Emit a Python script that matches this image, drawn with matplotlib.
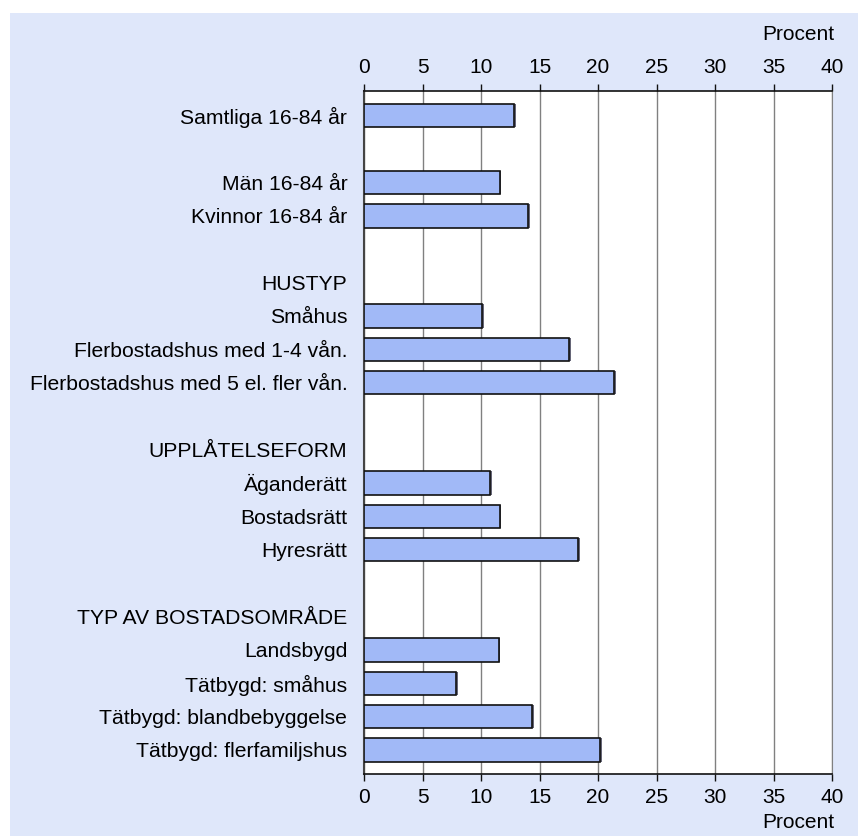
import matplotlib
matplotlib.use("Agg")
import matplotlib.pyplot as plt
from matplotlib.patches import Rectangle

plt.rcParams['font.family'] = ['Liberation Sans', 'DejaVu Sans']

categories = ["Samtliga 16-84 år", "", "Män 16-84 år", "Kvinnor 16-84 år", "",
              "HUSTYP", "Småhus", "Flerbostadshus med 1-4 vån.",
              "Flerbostadshus med 5 el. fler vån.", "",
              "UPPLÅTELSEFORM", "Äganderätt", "Bostadsrätt", "Hyresrätt", "",
              "TYP AV BOSTADSOMRÅDE", "Landsbygd", "Tätbygd: småhus",
              "Tätbygd: blandbebyggelse", "Tätbygd: flerfamiljshus"]
values = [12.8, None, 11.6, 14.0, None,
          None, 10.1, 17.5, 21.4, None,
          None, 10.8, 11.6, 18.3, None,
          None, 11.5, 7.9, 14.4, 20.2]
xticks = [0, 5, 10, 15, 20, 25, 30, 35, 40]

W, H = 858, 836
fig = plt.figure(figsize=(W/100, H/100), dpi=100)
fig.patch.set_facecolor("white")
fig.patches.append(Rectangle((10/W, 0), 1 - 10/W, 1 - 13/H, transform=fig.transFigure,
                             facecolor="#dfe7fa", edgecolor="none", zorder=-5))

ax = fig.add_axes([364/W, 1 - 774/H, (832-364)/W, (774-91)/H])
ax.set_zorder(2)
ax.set_facecolor("white")

ys = [i for i, v in enumerate(values) if v is not None]
vs = [v for v in values if v is not None]
# shadow
ax.barh(ys, vs, height=0.7, left=0.15, color="#666677", edgecolor="none", zorder=2)
ax.barh(ys, vs, height=0.7, color="#a1b9f7", edgecolor="#111111", linewidth=1.2, zorder=3)

ax.set_xlim(0, 40)
ax.set_ylim(19.72, -0.74)
ax.set_yticks(range(len(categories)))
ax.set_yticklabels(categories, fontsize=15.2)
ax.tick_params(axis="y", length=0, pad=12)
ax.set_xticks(xticks)
ax.tick_params(axis="x", top=True, labeltop=True, bottom=True, labelbottom=True,
               direction="out", length=5, width=1, labelsize=15, pad=5, color="#111111")
ax.xaxis.grid(True, color="#808080", linewidth=1)
ax.set_axisbelow(True)
for s in ["top", "bottom"]:
    ax.spines[s].set_color("#111111")
    ax.spines[s].set_linewidth(1.2)
ax.spines["left"].set_color("#444444")
ax.spines["left"].set_linewidth(1.5)
ax.spines["right"].set_color("#808080")

fig.text(834/W, 1 - 35/H, "Procent", ha="right", va="center", fontsize=15)
fig.text(834/W, 1 - 822/H, "Procent", ha="right", va="center", fontsize=15)

fig.savefig("out.png", dpi=100, facecolor=fig.get_facecolor())
